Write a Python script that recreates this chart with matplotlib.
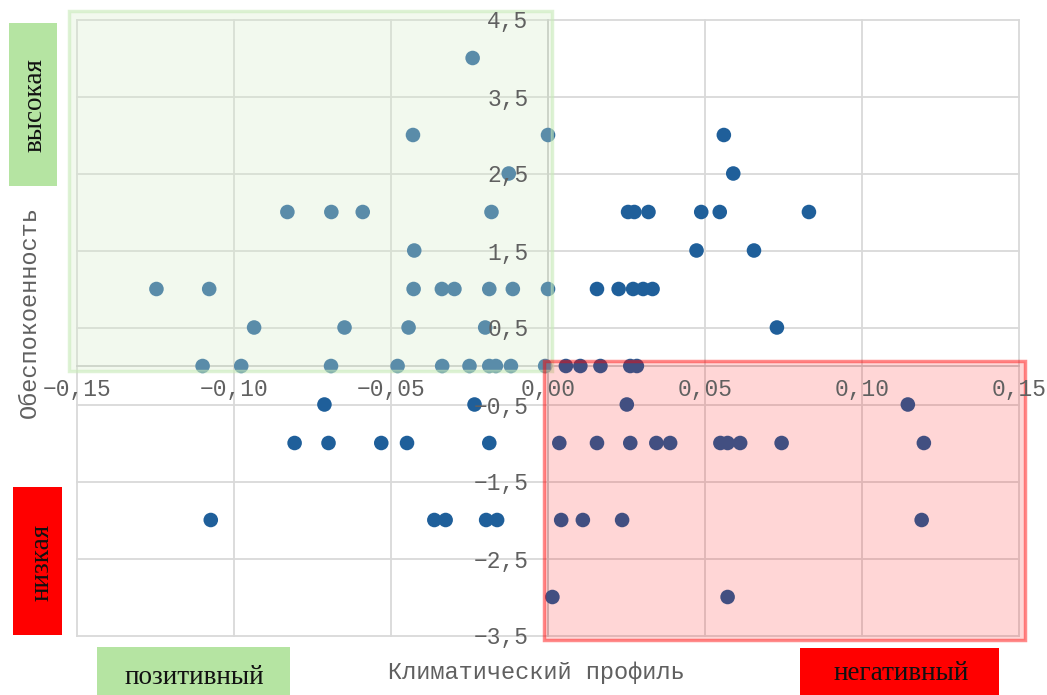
# Scatter: climate profile vs concern, with quadrant highlights
import matplotlib
matplotlib.use('Agg')
import matplotlib.pyplot as plt
from matplotlib.patches import Rectangle

W, H = 1047, 695

# Data
x_values = [
    -0.024,
    -0.043, 0.000, 0.056,
    -0.0125, 0.059,
    -0.083, -0.069, -0.059, -0.018, 0.0255, 0.0275, 0.032, 0.0488, 0.0547, 0.0831,
    -0.0426, 0.0473, 0.0656,
    -0.1247, -0.1079, -0.0428, -0.0338, -0.0298, -0.0187, -0.0112, 0.000, 0.0156, 0.0225, 0.0271, 0.0303, 0.0333,
    -0.0936, -0.0648, -0.0444, -0.0200, 0.0729,
    -0.1100, -0.0977, -0.0691, -0.0479, -0.0337, -0.0250, -0.0187, -0.0166, -0.0118, -0.0009,
    0.0057, 0.0103, 0.0167, 0.0262, 0.0283,
    -0.0712, -0.0234, 0.0251, 0.1146,
    -0.0807, -0.0699, -0.0531, -0.0449, -0.0187, 0.0036, 0.0156, 0.0262, 0.0345, 0.0389,
    0.0549, 0.0572, 0.0612, 0.0744, 0.1197,
    -0.1074, -0.0362, -0.0326, -0.0197, -0.0162, 0.0042, 0.0111, 0.0236, 0.1190,
    0.0014, 0.0572,
]
y_values = (
    [4.0]
    + [3.0] * 3
    + [2.5] * 2
    + [2.0] * 10
    + [1.5] * 3
    + [1.0] * 13
    + [0.5] * 5
    + [0.0] * 15
    + [-0.5] * 4
    + [-1.0] * 15
    + [-2.0] * 9
    + [-3.0] * 2
)

x_ticks = [-0.15, -0.10, -0.05, 0.0, 0.05, 0.10, 0.15]
x_tick_labels = ['\u22120,15', '\u22120,10', '\u22120,05', '0,00', '0,05', '0,10', '0,15']
y_ticks = [4.5, 3.5, 2.5, 1.5, 0.5, -0.5, -1.5, -2.5, -3.5]
y_tick_labels = ['4,5', '3,5', '2,5', '1,5', '0,5', '\u22120,5', '\u22121,5', '\u22122,5', '\u22123,5']

x_title = 'Климатический профиль'
y_title = 'Обеспокоенность'
mono = ['Liberation Mono', 'DejaVu Sans Mono']
serif = ['Liberation Serif', 'DejaVu Serif']


def fx(px):
    return px / W


def fy(py):
    return 1 - py / H


fig = plt.figure(figsize=(W / 100, H / 100), dpi=100)
ax = fig.add_axes([fx(77), fy(635.5), fx(1019) - fx(77), fy(19.5) - fy(635.5)])
ax.set_xlim(-0.15, 0.15)
ax.set_ylim(-3.5, 4.5)
ax.set_facecolor('none')

# gridlines
for xv in x_ticks:
    ax.axvline(xv, color='#d9d9d9', lw=1.3, zorder=0.5, clip_on=False)
for yv in y_ticks:
    ax.axhline(yv, color='#d9d9d9', lw=1.3, zorder=0.5, clip_on=False)

# axes crossing at zero
for side in ['top', 'right']:
    ax.spines[side].set_visible(False)
ax.spines['left'].set_position(('data', 0))
ax.spines['bottom'].set_position(('data', 0))
for side in ['left', 'bottom']:
    ax.spines[side].set_color('#c8c8c8')
    ax.spines[side].set_linewidth(1.3)
    ax.spines[side].set_zorder(1)

ax.set_xticks(x_ticks)
ax.set_xticklabels(x_tick_labels, family=mono, fontsize=16.5, color='#606060')
ax.set_yticks(y_ticks)
ax.set_yticklabels(y_tick_labels, family=mono, fontsize=16.5, color='#606060')
ax.tick_params(axis='x', length=0, pad=9)
ax.tick_params(axis='y', length=0, pad=14)
ax.xaxis.set_zorder(6)
ax.yaxis.set_zorder(6)

ax.scatter(x_values, y_values, s=110, color='#1f5f9a', edgecolors='none', zorder=3)

# quadrant highlights
ax.add_patch(Rectangle((-0.1526, -0.065), 0.1539, 4.669,
                       facecolor=(215 / 255, 237 / 255, 203 / 255, 0.32),
                       edgecolor=(200 / 255, 234 / 255, 185 / 255, 0.6),
                       lw=2.5, zorder=4, clip_on=False))
ax.add_patch(Rectangle((-0.0012, -3.56), 0.1532, 3.625,
                       facecolor=(1, 0, 0, 0.16),
                       edgecolor=(1, 0, 0, 0.45),
                       lw=2.5, zorder=4, clip_on=False))

# axis titles
fig.text(fx(29), fy(312), y_title, rotation=90, ha='center', va='center',
         family=mono, fontsize=17, color='#606060')
fig.text(fx(536), fy(673), x_title, ha='center', va='center',
         family=mono, fontsize=17, color='#606060')

# coloured label boxes
boxes = [
    (9, 23, 57, 186, '#b5e4a2', 'высокая', 35, 105, 90),
    (13, 487, 62, 635, '#ff0000', 'низкая', 42, 562, 90),
    (97, 647, 290, 700, '#b5e4a2', 'позитивный', 194, 677, 0),
    (800, 648, 999, 700, '#ff0000', 'негативный', 901, 674, 0),
]
for x0, y0, x1, y1, col, label, tx, ty, rot in boxes:
    fig.add_artist(Rectangle((fx(x0), fy(y1)), fx(x1) - fx(x0), fy(y0) - fy(y1),
                             transform=fig.transFigure, facecolor=col, edgecolor='none'))
    fig.text(fx(tx), fy(ty), label, rotation=rot, ha='center', va='center',
             family=serif, fontsize=19.5, color='#111111')

fig.savefig('out.png', dpi=100)
